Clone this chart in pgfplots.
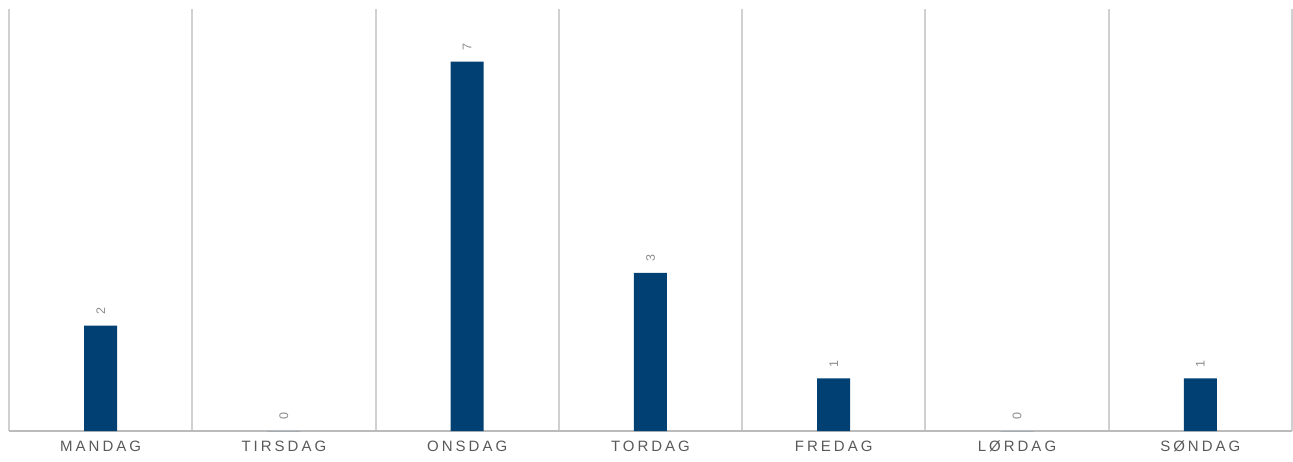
\documentclass[border=0pt]{standalone}
\usepackage{pgfplots}
\pgfplotsset{compat=1.18}
\usepackage{fontspec}
\setmainfont{Liberation Sans}
\definecolor{barblue}{HTML}{004073}
\definecolor{gridgray}{HTML}{D0D0D0}
\definecolor{ticktext}{HTML}{595959}
\definecolor{labeltext}{HTML}{8C8C8C}
\begin{document}
\begin{tikzpicture}
\useasboundingbox (-9pt,-30pt) rectangle (1284pt,431pt);
\begin{axis}[
    at={(0,0)}, anchor=south west,
    scale only axis,
    width=1283pt, height=422pt,
    ybar, bar width=33pt,
    xmin=-0.5, xmax=6.5,
    ymin=0, ymax=8,
    xtick=data,
    xticklabels={MANDAG, TIRSDAG, ONSDAG, TORDAG, FREDAG, LØRDAG, SØNDAG},
    major tick length=0pt,
    minor xtick={-0.5,0.5,...,6.5},
    minor tick length=0pt,
    xminorgrids=true,
    minor grid style={gridgray, line width=2pt},
    axis x line*=bottom,
    axis y line=none,
    x axis line style={draw=gridgray!90!black, line width=1.5pt, -},
    xticklabel style={font=\fontsize{15}{18}\selectfont\addfontfeature{LetterSpace=20}, text=ticktext, yshift=-6pt},
    /pgf/number format/assume math mode=true,
    nodes near coords,
    nodes near coords align={anchor=west},
    every node near coord/.style={font=\fontsize{12.5}{15}\selectfont, text=labeltext, rotate=90, inner sep=0pt, xshift=11pt},
]
\addplot[fill=barblue, draw=none] coordinates {
    (0,2) (1,0) (2,7) (3,3) (4,1) (5,0) (6,1)
};
\end{axis}
\end{tikzpicture}
\end{document}
